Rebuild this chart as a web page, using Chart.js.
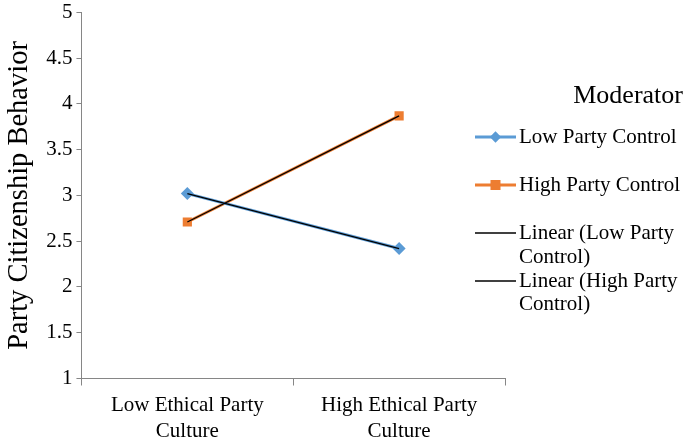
<!DOCTYPE html>
<html>
<head>
<meta charset="utf-8">
<script src="https://cdn.jsdelivr.net/npm/chart.js@4"></script>
<style>
  body { margin: 0; background: #fff; overflow: hidden; }
  #wrap { position: relative; width: 685px; height: 443px; overflow: hidden; }
  #legend { position: absolute; left: 475px; top: 80px; width: 210px;
    font-family: "Liberation Serif", serif; color: #000; }
  #legend .title { font-size: 26px; line-height: 30px; text-align: right; padding-right: 2px; margin-bottom: 15px; }
  #legend .item { display: flex; align-items: flex-start; font-size: 21px; line-height: 23.5px; margin-bottom: 24.5px; }
  #legend .item.tight { margin-bottom: 0.5px; }
  #legend canvas { flex: none; margin-top: 4px; margin-right: 3px; }
</style>
</head>
<body>
<div id="wrap">
  <canvas id="chart" width="685" height="452"></canvas>
  <div id="legend"></div>
</div>
<script>
const categories = [["Low Ethical Party", "Culture"], ["High Ethical Party", "Culture"]];
const lowControl = [3.02, 2.42];
const highControl = [2.71, 3.87];
const yTicks = [1, 1.5, 2, 2.5, 3, 3.5, 4, 4.5, 5];

// linear trend over category positions
function trend(vals) {
  const n = vals.length;
  const xs = vals.map((_, i) => i);
  const mx = xs.reduce((a, b) => a + b, 0) / n;
  const my = vals.reduce((a, b) => a + b, 0) / n;
  let num = 0, den = 0;
  xs.forEach((x, i) => { num += (x - mx) * (vals[i] - my); den += (x - mx) * (x - mx); });
  const b = num / den;
  return xs.map(x => my + b * (x - mx));
}

const font = "Liberation Serif";
Chart.defaults.font.family = font;

const ctx = document.getElementById("chart").getContext("2d");
const chart = new Chart(ctx, {
  type: 'line',
  data: {
    labels: categories,
    datasets: [
      { label: 'Low Party Control', data: lowControl, borderColor: '#5b9bd5', backgroundColor: '#5b9bd5',
        borderWidth: 3, pointStyle: 'rectRot', pointRadius: 6.5, pointBorderWidth: 0, order: 2 },
      { label: 'High Party Control', data: highControl, borderColor: '#ed7d31', backgroundColor: '#ed7d31',
        borderWidth: 3, pointStyle: 'rect', pointRadius: 6.5, pointBorderWidth: 0, order: 2 },
      { label: 'Linear (Low Party Control)', data: trend(lowControl), borderColor: '#000', borderWidth: 1.3,
        pointRadius: 0, order: 1 },
      { label: 'Linear (High Party Control)', data: trend(highControl), borderColor: '#000', borderWidth: 1.3,
        pointRadius: 0, order: 1 }
    ]
  },
  options: {
    responsive: false,
    animation: false,
    layout: { padding: { left: 2, right: 180, top: 0, bottom: 0 } },
    plugins: { legend: { display: false }, tooltip: { enabled: false } },
    scales: {
      x: {
        offset: true,
        grid: { offset: true, drawOnChartArea: false, tickLength: 7, color: '#868686' },
        border: { color: '#868686' },
        ticks: { color: '#000', font: { family: font, size: 21, lineHeight: 1.25 }, maxRotation: 0, padding: 7 }
      },
      y: {
        min: 1, max: 5,
        afterBuildTicks: axis => { axis.ticks = yTicks.map(v => ({ value: v })); },
        grid: { drawOnChartArea: false, tickLength: 5, color: '#868686' },
        border: { color: '#868686' },
        ticks: { color: '#000', font: { family: font, size: 21, lineHeight: 0.8 }, padding: 4,
          callback: v => String(v) },
        title: { display: true, text: 'Party Citizenship Behavior', color: '#000',
          font: { family: font, size: 28.5 }, padding: { top: 0, bottom: 6 } }
      }
    }
  }
});

// HTML legend
const legend = document.getElementById("legend");
legend.innerHTML = '<div class="title">Moderator</div>';
chart.data.datasets.forEach((ds, i) => {
  const item = document.createElement("div");
  item.className = "item" + (i === 2 ? " tight" : "");
  const c = document.createElement("canvas");
  c.width = 41; c.height = 16;
  const g = c.getContext("2d");
  g.strokeStyle = ds.borderColor;
  g.lineWidth = ds.pointRadius ? 3 : 1.5;
  g.beginPath(); g.moveTo(0, 8); g.lineTo(41, 8); g.stroke();
  if (ds.pointRadius) {
    g.fillStyle = ds.backgroundColor;
    g.save(); g.translate(20.5, 8);
    if (ds.pointStyle === 'rectRot') { g.rotate(Math.PI / 4); g.fillRect(-4, -4, 8, 8); }
    else g.fillRect(-5, -5, 10, 10);
    g.restore();
  }
  const t = document.createElement("span");
  t.textContent = ds.label;
  item.appendChild(c); item.appendChild(t);
  legend.appendChild(item);
});
</script>
</body>
</html>
